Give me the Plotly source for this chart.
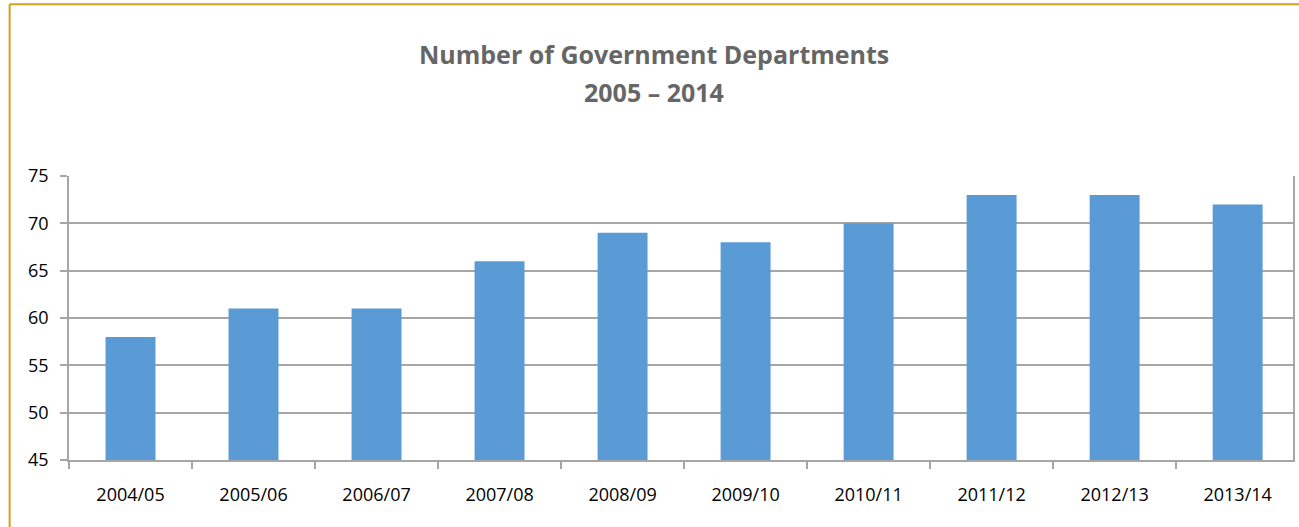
import plotly.graph_objects as go

years = ["2004/05", "2005/06", "2006/07", "2007/08", "2008/09",
         "2009/10", "2010/11", "2011/12", "2012/13", "2013/14"]
departments = [58, 61, 61, 66, 69, 68, 70, 73, 73, 72]
y_ticks = [45, 50, 55, 60, 65, 70, 75]
title_lines = ["Number of Government Departments", "2005 – 2014"]

bar_color = "#5B9BD5"
grid_color = "#A6A6A6"
frame_color = "#D4A11E"
font_family = "Open Sans, DejaVu Sans, sans-serif"

fig = go.Figure(
    go.Bar(x=years, y=departments, marker=dict(color=bar_color, line=dict(width=0)))
)

# two-line heading, one annotation per line for exact line spacing
title_y = [1.431, 1.297]
annotations = [
    dict(text=f"<b>{line}</b>", xref="paper", yref="paper", x=0.478, y=ty,
         xanchor="center", yanchor="middle", showarrow=False,
         font=dict(family=font_family, size=25, color="#666666"))
    for line, ty in zip(title_lines, title_y)
]

fig.update_layout(
    width=1299,
    height=527,
    margin=dict(l=69, r=4, t=176, b=67),
    paper_bgcolor="white",
    plot_bgcolor="white",
    bargap=0.594,
    showlegend=False,
    annotations=annotations,
    font=dict(family=font_family, size=18, color="#000000"),
    shapes=[
        dict(type="line", xref="paper", yref="paper", x0=-0.0485, x1=1.01,
             y0=1.605, y1=1.605, line=dict(color=frame_color, width=2)),
        dict(type="line", xref="paper", yref="paper", x0=-0.0485, x1=-0.0485,
             y0=1.605, y1=-0.3, line=dict(color=frame_color, width=2)),
    ],
)

fig.update_xaxes(
    type="category",
    range=[-0.5, 9.45],
    showgrid=False,
    showline=True,
    linecolor=grid_color,
    linewidth=1.5,
    ticks="outside",
    tickson="boundaries",
    ticklen=7,
    tickcolor=grid_color,
    tickwidth=1.5,
    ticklabelstandoff=18,
    tickfont=dict(size=18, color="#000000"),
)

fig.update_yaxes(
    range=[45, 75],
    tickvals=y_ticks,
    showgrid=True,
    gridcolor=grid_color,
    gridwidth=1.5,
    showline=True,
    mirror=True,
    linecolor=grid_color,
    linewidth=1.5,
    ticks="outside",
    ticklen=7,
    tickcolor=grid_color,
    tickwidth=1.5,
    ticklabelstandoff=8,
    tickfont=dict(size=18, color="#000000"),
    zeroline=False,
)

fig.write_html("out.html")
